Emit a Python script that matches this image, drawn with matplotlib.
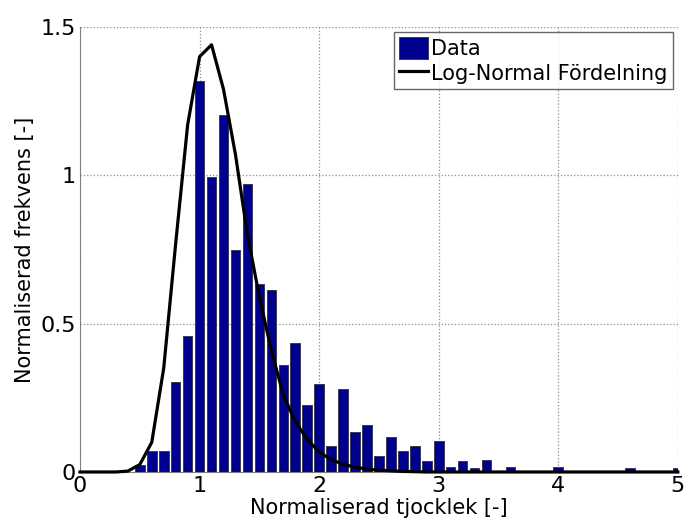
import matplotlib
matplotlib.use("Agg")
import matplotlib.pyplot as plt

# histogram bins (centres) and normalised heights
bin_centers = [0.5, 0.6, 0.7, 0.8, 0.9, 1.0, 1.1, 1.2, 1.3, 1.4,
               1.5, 1.6, 1.7, 1.8, 1.9, 2.0, 2.1, 2.2, 2.3, 2.4,
               2.5, 2.6, 2.7, 2.8, 2.9, 3.0, 3.1, 3.2, 3.3, 3.4,
               3.6, 4.0, 4.6, 5.0]
bin_heights = [0.025, 0.071, 0.071, 0.303, 0.459, 1.319, 0.995, 1.203, 0.748, 0.972,
               0.633, 0.614, 0.360, 0.436, 0.227, 0.298, 0.089, 0.279, 0.134, 0.157,
               0.054, 0.117, 0.072, 0.088, 0.036, 0.106, 0.018, 0.036, 0.013, 0.042,
               0.018, 0.018, 0.013, 0.013]

# fitted log-normal curve, evaluated at the bin centres
fit_x = [0.0, 0.1, 0.2, 0.3, 0.4, 0.5, 0.6, 0.7, 0.8, 0.9,
         1.0, 1.1, 1.2, 1.3, 1.4, 1.5, 1.6, 1.7, 1.8, 1.9,
         2.0, 2.1, 2.2, 2.3, 2.4, 2.5, 2.6, 2.7, 2.8, 2.9,
         3.0, 3.5, 4.0, 4.5, 5.0]
fit_y = [0.0, 0.0, 0.0, 0.0, 0.003, 0.025, 0.10, 0.35, 0.77, 1.17,
         1.40, 1.44, 1.29, 1.07, 0.80, 0.59, 0.41, 0.26, 0.17, 0.11,
         0.067, 0.042, 0.026, 0.016, 0.010, 0.006, 0.004, 0.002, 0.001, 0.0,
         0.0, 0.0, 0.0, 0.0, 0.0]

x_ticks = [0, 1, 2, 3, 4, 5]
y_ticks = [0, 0.5, 1, 1.5]
y_tick_labels = ['0', '0.5', '1', '1.5']

fig = plt.figure(figsize=(6.84, 5.27), dpi=100)
ax = fig.add_axes([0.117, 0.1044, 0.874, 0.8444])

bars = ax.bar(bin_centers, bin_heights, width=0.08, color='#00008f',
              edgecolor='#3a3a5a', linewidth=0.7, label='Data', zorder=2)
line, = ax.plot(fit_x, fit_y, color='black', linewidth=2.3,
                label='Log-Normal Fördelning', zorder=3, clip_on=False)

ax.set_xlim(0, 5)
ax.set_ylim(0, 1.5)
ax.set_xticks(x_ticks)
ax.set_yticks(y_ticks)
ax.set_yticklabels(y_tick_labels)
ax.tick_params(length=0, labelsize=16, pad=3)

ax.grid(True, linestyle=':', color='#8c8c8c', linewidth=0.9, zorder=0)
ax.set_axisbelow(True)
for s in ['top', 'right']:
    ax.spines[s].set_visible(False)
for s in ['left', 'bottom']:
    ax.spines[s].set_color('#808080')

ax.set_xlabel('Normaliserad tjocklek [-]', fontsize=15, labelpad=1)
ax.set_ylabel('Normaliserad frekvens [-]', fontsize=15, labelpad=4)

leg = ax.legend([bars, line], ['Data', 'Log-Normal Fördelning'],
                loc='upper right', fontsize=15, frameon=True, fancybox=False,
                handlelength=1.4, handleheight=1.2, handletextpad=0.15,
                borderpad=0.25, labelspacing=0.15, borderaxespad=0.25)
leg.get_frame().set_edgecolor('#404040')
leg.get_frame().set_linewidth(1.0)

fig.savefig('out.png', dpi=100)
